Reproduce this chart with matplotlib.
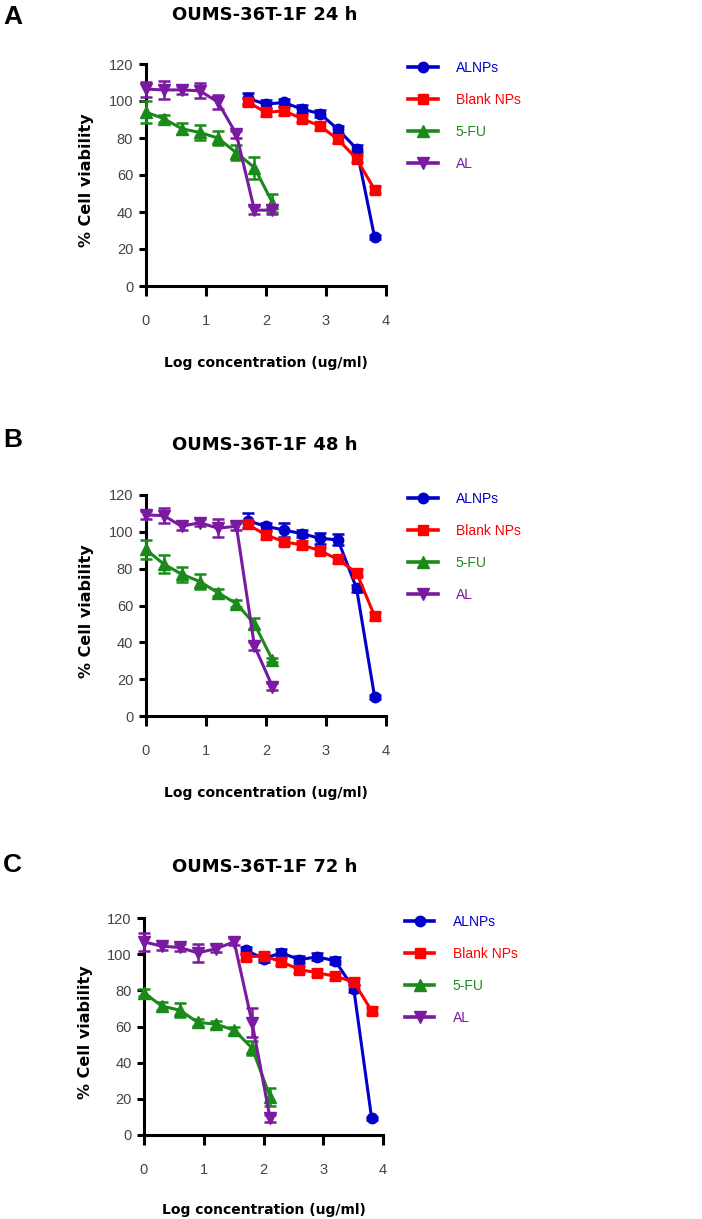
import matplotlib
matplotlib.use('Agg')
import matplotlib.pyplot as plt
from matplotlib.lines import Line2D

# log concentrations
x_np = [1.70, 2.00, 2.30, 2.60, 2.90, 3.20, 3.51, 3.81]
x_drug = [0.00, 0.30, 0.60, 0.90, 1.20, 1.51, 1.81, 2.11]

panel_letters = ['A', 'B', 'C']
titles = ['OUMS-36T-1F 24 h', 'OUMS-36T-1F 48 h', 'OUMS-36T-1F 72 h']
series_names = ['ALNPs', 'Blank NPs', '5-FU', 'AL']

# 24 h
alnps_24 = [101.4, 98.3, 99.2, 95.6, 93.2, 84.7, 74.2, 26.4]
alnps_24_err = [3, 2, 2, 2, 2, 2, 2, 1]
blank_24 = [99.5, 93.8, 94.7, 90.5, 86.5, 79.3, 68.8, 52.1]
blank_24_err = [2, 2, 2, 2, 2, 2, 2, 2]
fu_24 = [94.0, 90.5, 85.0, 83.0, 80.0, 72.0, 64.0, 45.0]
fu_24_err = [6, 2, 3, 4, 4, 4, 6, 5]
al_24 = [106.4, 106.0, 106.0, 105.5, 99.5, 82.0, 41.0, 41.0]
al_24_err = [4, 5, 2, 4, 4, 2, 2, 2]

# 48 h
alnps_48 = [106.0, 103.0, 101.0, 99.0, 96.5, 95.6, 69.3, 10.5]
alnps_48_err = [4, 2, 4, 2, 3, 3, 2, 1]
blank_48 = [104.0, 98.3, 94.7, 92.8, 89.8, 85.0, 77.8, 54.3]
blank_48_err = [2, 2, 2, 2, 2, 2, 2, 2]
fu_48 = [90.5, 82.5, 77.0, 73.0, 67.0, 61.0, 50.0, 30.4]
fu_48_err = [5, 5, 4, 4, 2, 2, 3, 1]
al_48 = [109.2, 108.8, 103.0, 105.0, 102.0, 103.0, 38.0, 16.0]
al_48_err = [2, 4, 2, 2, 5, 2, 2, 2]

# 72 h
alnps_72 = [102.2, 97.6, 100.7, 97.0, 98.5, 96.3, 81.0, 9.2]
alnps_72_err = [2, 2, 2, 2, 2, 2, 2, 1]
blank_72 = [98.5, 99.0, 95.8, 91.5, 89.7, 87.8, 84.7, 68.7]
blank_72_err = [2, 2, 2, 2, 2, 2, 2, 2]
fu_72 = [78.6, 71.3, 69.0, 62.3, 61.3, 58.0, 48.0, 21.2]
fu_72_err = [2, 2, 4, 2, 2, 2, 4, 5]
al_72 = [106.8, 104.4, 103.7, 100.7, 103.0, 106.8, 62.0, 9.2]
al_72_err = [5, 2, 2, 5, 2, 2, 8, 2]

panel_data = [
    [(alnps_24, alnps_24_err), (blank_24, blank_24_err), (fu_24, fu_24_err), (al_24, al_24_err)],
    [(alnps_48, alnps_48_err), (blank_48, blank_48_err), (fu_48, fu_48_err), (al_48, al_48_err)],
    [(alnps_72, alnps_72_err), (blank_72, blank_72_err), (fu_72, fu_72_err), (al_72, al_72_err)],
]

colors = ['#0000c8', '#ff0000', '#1a8a1a', '#7a1aa0']
markers = ['o', 's', '^', 'v']
msizes = [7.5, 7, 8, 8]
x_sets = [x_np, x_np, x_drug, x_drug]

W, H = 702, 1219
fig = plt.figure(figsize=(W / 100, H / 100), dpi=100)
plt.rcParams['font.family'] = ['Liberation Sans', 'DejaVu Sans']

# axes boxes in pixels: left, right, y of 0, y of 120
boxes = [(145.7, 386, 286, 64), (145.7, 386, 716, 495), (144, 383, 1135, 918)]
title_y = [15, 445, 867]
letter_y = [17, 440, 865]

for i, (l, r, y0, y1) in enumerate(boxes):
    ax = fig.add_axes([l / W, (H - y0) / H, (r - l) / W, (y0 - y1) / H])
    handles = []
    for j, (vals, errs) in enumerate(panel_data[i]):
        ax.errorbar(x_sets[j], vals, yerr=errs, color=colors[j], marker=markers[j],
                    markersize=msizes[j], linewidth=2.2,
                    elinewidth=1.8, capsize=4, capthick=1.8,
                    clip_on=False, zorder=3)
        handles.append(Line2D([], [], color=colors[j], marker=markers[j],
                              markersize=msizes[j], linewidth=2.6, label=series_names[j]))
    ax.set_xlim(0, 4)
    ax.set_ylim(0, 120)
    ax.set_xticks([0, 1, 2, 3, 4])
    ax.set_yticks([0, 20, 40, 60, 80, 100, 120])
    for side in ['top', 'right']:
        ax.spines[side].set_visible(False)
    for side in ['left', 'bottom']:
        ax.spines[side].set_linewidth(2.2)
    ax.tick_params(axis='x', length=7, width=2.2, pad=13, labelsize=10.5, labelcolor='#444444')
    ax.tick_params(axis='y', length=5, width=2.2, pad=4, labelsize=10.5, labelcolor='#444444')
    ax.set_xlabel('Log concentration (ug/ml)', fontsize=10, fontweight='bold',
                  family=['DejaVu Sans'])
    ax.xaxis.set_label_coords(0.5, -(356 - 286) / (286 - 64))
    ax.set_ylabel('% Cell viability', fontsize=11.5, fontweight='bold',
                  family=['DejaVu Sans'])
    ax.yaxis.set_label_coords(-0.215, 0.475)

    ax.legend(handles=handles, loc='upper left', bbox_to_anchor=(1.07, 1.04), frameon=False,
              handlelength=2.1, handletextpad=1.3, labelspacing=1.3,
              fontsize=10, labelcolor='linecolor', borderaxespad=0)

    fig.text(265 / W, 1 - title_y[i] / H, titles[i], ha='center', va='center',
             fontsize=13, fontweight='bold', family=['DejaVu Sans'])
    fig.text(3 / W, 1 - letter_y[i] / H, panel_letters[i], ha='left', va='center',
             fontsize=19, fontweight='bold')

fig.savefig('out.png', dpi=100)
